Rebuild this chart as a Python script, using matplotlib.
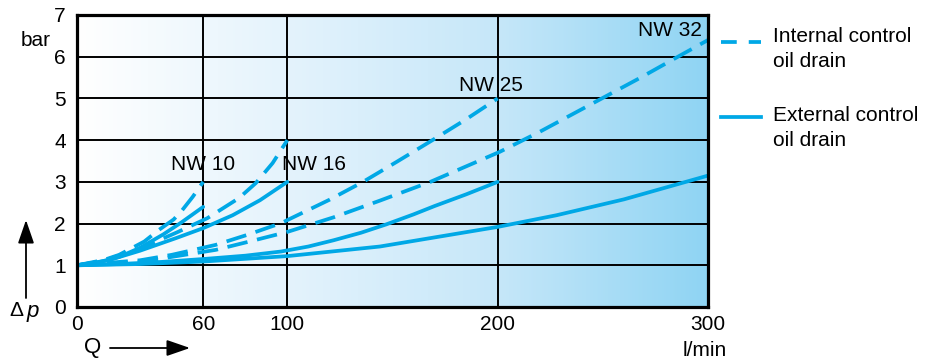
import numpy as np
import matplotlib.pyplot as plt
from matplotlib.colors import LinearSegmentedColormap
from matplotlib.patches import FancyArrowPatch

plt.rcParams['font.family'] = ['Liberation Sans', 'DejaVu Sans']

# flow Q (l/min) and pressure drop dp (bar)
nw10_int_q = [0, 10, 20, 32, 39, 46, 50, 55, 60]
nw10_int_dp = [1.0, 1.08, 1.25, 1.57, 1.85, 2.1, 2.32, 2.64, 3.0]
nw10_ext_q = [0, 10, 20, 30, 41, 50, 60]
nw10_ext_dp = [1.0, 1.07, 1.2, 1.42, 1.74, 2.04, 2.4]

nw16_int_q = [0, 15, 30, 48, 62, 77, 85, 93, 100]
nw16_int_dp = [1.0, 1.15, 1.4, 1.8, 2.13, 2.61, 2.97, 3.45, 4.0]
nw16_ext_q = [0, 15, 30, 47, 60, 74, 87, 100]
nw16_ext_dp = [1.0, 1.12, 1.35, 1.65, 1.89, 2.2, 2.56, 3.0]

nw25_int_q = [0, 30, 45, 66, 81, 97, 120, 136, 152, 169, 185, 200]
nw25_int_dp = [1.0, 1.12, 1.25, 1.49, 1.73, 2.01, 2.57, 3.0, 3.48, 4.0, 4.5, 5.0]
nw25_ext_q = [0, 20, 40, 60, 80, 97, 110, 122, 135, 147, 160, 170, 185, 200]
nw25_ext_dp = [1.0, 1.03, 1.08, 1.15, 1.23, 1.33, 1.45, 1.6, 1.78, 1.98, 2.22,
               2.42, 2.7, 3.0]

nw32_int_q = [0, 30, 66, 82, 100, 122, 144, 168, 201, 220, 244, 268, 285, 300]
nw32_int_dp = [1.0, 1.08, 1.37, 1.57, 1.8, 2.15, 2.55, 3.0, 3.72, 4.2, 4.85,
               5.5, 5.98, 6.4]
nw32_ext_q = [0, 30, 60, 100, 144, 200, 228, 260, 300]
nw32_ext_dp = [1.0, 1.03, 1.09, 1.22, 1.45, 1.92, 2.2, 2.58, 3.15]

x_ticks = [0, 60, 100, 200, 300]
y_ticks = [0, 1, 2, 3, 4, 5, 6, 7]

size_labels = ['NW 10', 'NW 16', 'NW 25', 'NW 32']

blue = '#00a8e6'
dash = (0, (5.5, 2.6))
fs = 15

fig = plt.figure(figsize=(9.36, 3.61), dpi=100)
ax = fig.add_axes([77 / 936, 1 - 307 / 361, 631 / 936, 292 / 361])

# background: white to light blue, left to right
bg = LinearSegmentedColormap.from_list(
    'bg', ['#ffffff', '#e4f3fc', '#c6e7f9', '#8fd4f3'])
grad = np.linspace(0, 1, 256).reshape(1, -1)
ax.imshow(grad, cmap=bg, aspect='auto', extent=[0, 300, 0, 7], zorder=0)

for y in y_ticks[1:-1]:
    ax.axhline(y, color='black', lw=1.4, zorder=1)
for x in x_ticks[1:-1]:
    ax.axvline(x, color='black', lw=1.4, zorder=1)

curves = [
    (nw10_int_q, nw10_int_dp, nw10_ext_q, nw10_ext_dp),
    (nw16_int_q, nw16_int_dp, nw16_ext_q, nw16_ext_dp),
    (nw25_int_q, nw25_int_dp, nw25_ext_q, nw25_ext_dp),
    (nw32_int_q, nw32_int_dp, nw32_ext_q, nw32_ext_dp),
]
for qi, pi, qe, pe in curves:
    ax.plot(qi, pi, color=blue, lw=2.7, ls=dash, zorder=3,
            dash_capstyle='butt', dash_joinstyle='round')
    ax.plot(qe, pe, color=blue, lw=2.7, zorder=3,
            solid_capstyle='round', solid_joinstyle='round')

lab_kw = dict(fontsize=fs, zorder=4)
ax.text(60, 3.42, size_labels[0], ha='center', va='center', **lab_kw)
ax.text(97.5, 3.42, size_labels[1], ha='left', va='center', **lab_kw)
ax.text(197, 5.3, size_labels[2], ha='center', va='center', **lab_kw)
ax.text(297, 6.62, size_labels[3], ha='right', va='center', **lab_kw)

ax.set_xlim(0, 300)
ax.set_ylim(0, 7)
ax.set_xticks(x_ticks)
ax.set_yticks(y_ticks)
ax.tick_params(length=0, labelsize=fs, pad=6)
ax.tick_params(axis='y', pad=8)
for s in ax.spines.values():
    s.set_linewidth(2.3)
    s.set_zorder(5)


# axis captions and arrows (figure pixel positions)
def fx(px):
    return px / 936


def fy(py):
    return 1 - py / 361


fig.text(fx(51), fy(40), 'bar', fontsize=fs, ha='right', va='center')
fig.text(fx(9), fy(311), 'Δ', fontsize=fs, ha='left', va='center')
fig.text(fx(27), fy(311), 'p', fontsize=fs + 1, style='italic',
         ha='left', va='center')
fig.text(fx(84), fy(347), 'Q', fontsize=fs + 1, ha='left', va='center')
fig.text(fx(705), fy(350), 'l/min', fontsize=fs, ha='center', va='center')

arrow = dict(arrowstyle='-|>,head_length=1.1,head_width=0.38', color='black',
             lw=1.3, shrinkA=0, shrinkB=0, mutation_scale=13,
             transform=fig.transFigure)
fig.add_artist(FancyArrowPatch((fx(26), fy(298)), (fx(26), fy(220)), **arrow))
fig.add_artist(FancyArrowPatch((fx(110), fy(348)), (fx(190), fy(348)), **arrow))

# legend on the right
fig.add_artist(plt.Line2D([fx(721), fx(761)], [fy(42), fy(42)], color=blue,
                          lw=2.7, ls=(0, (4.2, 3.2)), transform=fig.transFigure))
fig.add_artist(plt.Line2D([fx(721), fx(761)], [fy(117), fy(117)], color=blue,
                          lw=2.7, transform=fig.transFigure))
fig.text(fx(773), fy(49), 'Internal control\noil drain', fontsize=fs,
         ha='left', va='center', linespacing=1.4)
fig.text(fx(773), fy(128), 'External control\noil drain', fontsize=fs,
         ha='left', va='center', linespacing=1.4)

fig.savefig('out.png', dpi=100)
